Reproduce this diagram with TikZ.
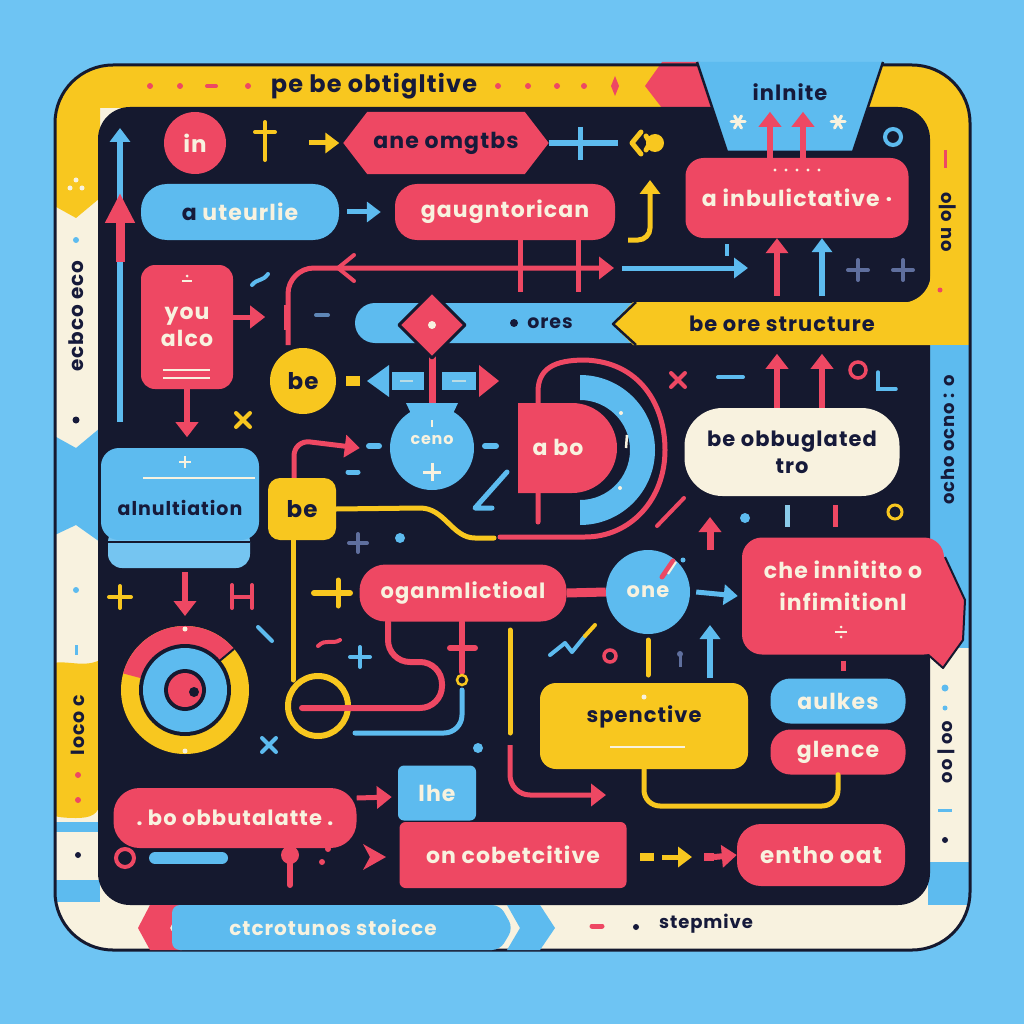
\documentclass[tikz,border=0pt]{standalone}
\usepackage{fontspec}
\setmainfont{Poppins}[LetterSpace=5]
\usetikzlibrary{arrows.meta}
\definecolor{bgc}{HTML}{6EC4F3}
\definecolor{navy}{HTML}{15192F}
\definecolor{rd}{HTML}{EE4863}
\definecolor{bl}{HTML}{5DBBEF}
\definecolor{yl}{HTML}{F8C71F}
\definecolor{cr}{HTML}{F8F2DF}
\definecolor{ink}{HTML}{161A3A}
\definecolor{slate}{HTML}{5F6F9E}
\newcommand\fsz[1]{\fontsize{#1}{#1}\selectfont\bfseries}
\newcommand\plusat[4]{\draw[#1, line width=#2pt, line cap=round] (#3) ++(-#4,0) -- ++(2*#4,0) (#3) ++(0,-#4) -- ++(0,2*#4);}
\tikzset{
  rbox/.style={fill=rd, text=cr, inner sep=0pt, font=\fsz{21}},
  bbox/.style={fill=bl, text=cr, inner sep=0pt, font=\fsz{21}},
  ybox/.style={fill=yl, text=ink, inner sep=0pt, font=\fsz{21}},
  cbox/.style={fill=cr, text=ink, inner sep=0pt, font=\fsz{21}},
  txt/.style={inner sep=0pt, font=\fsz{21}},
  rarr/.style={draw=rd, line width=6pt, -{Triangle[width=22pt,length=15pt]}},
  barr/.style={draw=bl, line width=5pt, -{Triangle[width=20pt,length=14pt]}},
  yarr/.style={draw=yl, line width=5pt, -{Triangle[width=20pt,length=14pt]}},
  rln/.style={draw=rd, line width=5pt, line cap=round},
  bln/.style={draw=bl, line width=5pt, line cap=round},
  yln/.style={draw=yl, line width=5pt, line cap=round},
  sln/.style={draw=slate, line width=4pt, line cap=round},
}
\begin{document}
\begin{tikzpicture}[x=1pt,y=-1pt]
\useasboundingbox (0,0) rectangle (1024,1024);
\fill[bgc] (0,0) rectangle (1024,1024);
% ---------------- frame bands
\begin{scope}
\clip[rounded corners=58pt] (55,65) rectangle (970,950);
\fill[cr] (40,50) rectangle (985,965);
\fill[yl] (40,50) -- (662,50) -- (662,108) -- (100,108) -- (100,198) -- (76,218) -- (40,198) -- cycle;
\fill[yl] (860,50) rectangle (985,345);
\fill[bl] (928,345) rectangle (985,648);
\fill[bl] (928,862) rectangle (985,905);
\fill[bl] (40,428) -- (76,448) -- (100,428) -- (100,542) -- (76,525) -- (40,542) -- cycle;
\fill[yl] (40,668) .. controls (60,655) and (80,670) .. (100,660) -- (100,800) .. controls (100,815) and (90,818) .. (76,818) .. controls (55,818) and (40,815) .. (40,800) -- cycle;
\fill[bl] (40,822) rectangle (100,832);
\fill[bl] (40,880) rectangle (100,902);
\end{scope}
\fill[rd] (662,62) -- (700,62) -- (715,108) -- (662,108) -- (645,86) -- cycle;
\draw[navy, line width=3pt, rounded corners=58pt] (55,65) rectangle (970,950);
% dark interior
\fill[navy, rounded corners=32pt] (98,107) rectangle (930,905);
% frame texts and dots
\node[txt, text=ink, font=\fsz{24}] (ttl) at (374,86) {pe be obtigltive};
\foreach \x in {150,180,248,498,528,557,584} \fill[rd] (\x,86) circle (3);
\draw[rd, line width=4pt, line cap=round] (207,86) -- (216,86);
\fill[rd] (615,76) -- (619,86) -- (615,96) -- (611,86) -- cycle;
\node[txt, text=ink, font=\fsz{20}, rotate=90] (lft1) at (76,316) {ecbco eco};
\fill[cr] (70,188) circle (2.5); \fill[cr] (82,188) circle (2.5); \fill[cr] (76,180) circle (2.5);
\fill[bl] (76,240) circle (3);
\fill[ink] (76,420) circle (3.5);
\fill[bl] (76,590) circle (3);
\draw[bl, line width=3pt] (76,645) -- (76,655);
\node[txt, text=ink, font=\fsz{19}, rotate=90] (lft2) at (78,725) {Ioco c};
\fill[rd] (78,775) circle (3);
\fill[rd] (78,800) circle (3);
\fill[ink] (78,855) circle (3);
\node[txt, text=ink, font=\fsz{18}, rotate=-90] (rgt1) at (948,222) {o|o no};
\draw[rd, line width=3pt] (945,150) -- (945,168);
\fill[rd] (940,290) circle (2.5);
\node[txt, text=ink, font=\fsz{18}, rotate=90] (rgt2) at (948,440) {ocho ocno : o};
\fill[bl] (945,688) circle (3.5);
\fill[bl] (945,708) circle (2.5);
\node[txt, text=ink, font=\fsz{18}, rotate=90] (rgt3) at (946,752) {oo | oo};
\draw[bl, line width=3pt] (938,810) -- (952,810);
\fill[ink] (945,840) circle (3);
% ---------------- INFINITE trapezoid
\fill[bl] (697,62) -- (883,62) -- (853,152) -- (727,152) -- cycle;
\draw[navy, line width=2.5pt, line join=round] (697,62) -- (727,152) -- (853,152) -- (883,62);
\node[txt, text=ink, font=\fsz{21}] (inf) at (790,92) {inlnite};
\foreach \cx in {738,838} {\foreach \a in {0,60,120} \draw[cr, line width=3pt, line cap=round] (\cx,122) ++(\a:7) -- ++({\a+180}:14);}
% ---------------- row 1
\node[circle, rbox, minimum size=62pt, font=\fsz{23}] (in) at (195,143) {in};
\draw[yl, line width=4pt, line cap=round] (265,122) -- (265,160) (255,132) -- (275,132);
\path node[minimum width=205pt, minimum height=62pt, inner sep=0pt] (hex) at (446,143) {};
\fill[rd] (hex.west) -- ([xshift=24pt]hex.north west) -- ([xshift=-24pt]hex.north east) -- (hex.east) -- ([xshift=-24pt]hex.south east) -- ([xshift=24pt]hex.south west) -- cycle;
\node[txt, text=ink, font=\fsz{22}] at (hex) {ane omgtbs};
\draw[yarr] ([xshift=-34pt]hex.west) -- ([xshift=-4pt]hex.west);
\draw[bl, line width=6pt] (hex.east) -- (618,143);
\draw[bl, line width=5pt] (580,127) -- (580,160);
\fill[yl] (655,143) circle (9);
\draw[yl, line width=5pt, line cap=round, line join=round] (641,132) -- (632,143) -- (641,154);
\draw[yl, line width=5pt, line cap=round] (646,136) -- (650,143) -- (646,150);
% ---------------- row 2
\node[bbox, minimum width=198pt, minimum height=56pt, rounded corners=26pt, font=\fsz{22}] (ute) at (240,212) {{\color{ink}a}~uteurlie};
\node[rbox, minimum width=220pt, minimum height=56pt, rounded corners=22pt, font=\fsz{22}] (gaug) at (505,212) {gaugntorican};
\draw[barr] ([xshift=8pt]ute.east) -- ([xshift=-14pt]gaug.west);
\coordinate (jend) at (650,180);
\draw[yarr, rounded corners=12pt] (628,240) -- (650,240) -- (jend);
\node[rbox, minimum width=223pt, minimum height=80pt, rounded corners=18pt, font=\fsz{22}] (ainb) at (797,198) {a inbulictative ·};
\foreach \x in {775,786,797,808,819} \fill[cr] (\x,170) circle (1.6);
\draw[rarr] ([xshift=-27pt]ainb.north) -- ++(0,-46);
\draw[rarr] ([xshift=6pt]ainb.north) -- ++(0,-46);
\draw[bl, line width=4pt] (893,137) circle (8);
% long connectors
\draw[rd, line width=5pt] ([xshift=15pt]gaug.south) -- ++(0,52);
\draw[rd, line width=5pt] ([xshift=73pt]gaug.south) -- ++(0,52);
\coordinate (rtip) at (614,268);
\draw[rd, line width=5pt, rounded corners=26pt, -{Triangle[width=22pt,length=15pt]}] (288,345) -- (288,268) -- (rtip);
\draw[rd, line width=4pt, line cap=round, line join=round] (354,255) -- (338,268) -- (354,281);
\coordinate (btip) at (748,268);
\draw[barr] (622,268) -- (btip);
\draw[bl, line width=4pt] (727,244) -- (727,256);
\draw[rarr] ([xshift=-20pt]ainb.south) ++(0,58) -- ([xshift=-20pt]ainb.south);
\draw[barr, line width=6pt] ([xshift=25pt]ainb.south) ++(0,58) -- ([xshift=25pt]ainb.south);
\plusat{slate}{4}{858,270}{10}
\plusat{slate}{4}{903,270}{10}
% ---------------- left column
\coordinate (bltop) at (120,128);
\draw[barr, line width=6pt] (120,422) -- (bltop);
\draw[rd, line width=9pt, -{Triangle[width=28pt,length=30pt]}] (120,262) -- (120,193);
\node[rbox, minimum width=92pt, minimum height=124pt, rounded corners=14pt, align=center, font=\fsz{22}] (you) at (187,327) {you\\[4pt]alco};
\draw[cr, line width=2.5pt] (182,281) -- (192,281);
\fill[cr] (187,276) circle (1.5);
\draw[cr, line width=2.5pt] (163,370) -- (210,370) (163,378) -- (210,378);
\draw[rarr, line width=5pt] ([yshift=10pt]you.east) -- ++(32,0);
\draw[rd, line width=5pt] (286,305) -- (286,330);
\draw[bl, line width=4pt, line cap=round] (252,285) .. controls (258,278) and (262,282) .. (268,274);
\draw[slate!70!bl, line width=4pt, line cap=round] (316,315) -- (328,315);
\draw[rarr] (you.south) -- ++(0,48);
\draw[yl, line width=4pt, line cap=round] (236,413) -- (250,427) (250,413) -- (236,427);
% ---------------- ores band + structure band
\fill[bl, rounded corners=20pt] (355,303) rectangle (650,343);
\node[txt, text=ink, font=\fsz{19}] (ores) at (550,323) {ores};
\fill[ink] (514,323) circle (4);
\fill[yl] (612,324) -- (633,302) -- (931,302) -- (931,345) -- (633,345) -- cycle;
\draw[navy, line width=2.5pt, line join=round] (636,345) -- (613,324) -- (636,302);
\fill[yl] (900,303) -- (931,303) -- (931,272) .. controls (931,290) and (918,303) .. (900,303);
\node[txt, text=ink, font=\fsz{21}] (struct) at (782,324) {be ore structure};
% diamond
\draw[rd, line width=7pt] (432,350) -- (432,404);
\fill[rd] (432,292) -- (465,325) -- (432,358) -- (399,325) -- cycle;
\draw[navy, line width=3pt, line join=round] (432,292) -- (465,325) -- (432,358) -- (399,325) -- cycle;
\coordinate (dia) at (432,325);
\fill[cr] (dia) circle (4);
% be circle + bar
\node[circle, ybox, minimum size=66pt, font=\fsz{23}] (be1) at (303,381) {be};
\fill[yl] (346,376) rectangle (360,386);
\fill[bl] (367,381) -- (389,365) -- (389,397) -- cycle;
\fill[bl] (392,372) rectangle (424,390);
\fill[bl] (442,372) rectangle (476,390);
\draw[cr!60!bl, line width=2.5pt] (400,381) -- (413,381) (452,381) -- (466,381);
\fill[rd] (479,365) -- (499,381) -- (479,397) -- cycle;
% ceno
\fill[bl] (406,403) -- (458,403) -- (449,422) -- (415,422) -- cycle;
\node[circle, fill=bl, minimum size=84pt, inner sep=0pt] (ceno) at (432,448) {};
\node[txt, text=cr, font=\fsz{16}] at ([yshift=8pt]ceno) {ceno};
\draw[cr, line width=3pt] (432,463) -- (432,481) (423,472) -- (441,472);
\draw[cr, line width=2pt] (432,420) -- (432,427);
\draw[bl, line width=6pt, line cap=round] (369,446) -- (379,446) (485,446) -- (496,446);
\draw[bl, line width=5pt, line cap=round] (348,472) -- (358,472);
\draw[bl, line width=5pt, line cap=round, line join=round] (507,472) -- (475,508) -- (492,508);
% a bo
\draw[rd, line width=5pt, line cap=round] (538,522) -- (538,392) .. controls (538,368) and (555,360) .. (585,360) .. controls (640,362) and (665,405) .. (665,450) .. controls (665,500) and (630,537) .. (585,537) -- (500,537);
\fill[bl] (580,375) arc[start angle=-90,end angle=90,radius=75] -- (580,500) arc[start angle=90,end angle=-90,radius=50] -- cycle;
\fill[cr] (621,413) circle (2);
\draw[cr, line width=2.5pt] (627,435) -- (626,448);
\fill[cr] (620,488) circle (2);
\fill[rd] (518,403) -- (572,403) arc[start angle=-90,end angle=90,radius=45] -- (518,493) -- cycle;
\node[txt, text=cr, font=\fsz{22}] (abo) at (558,447) {a bo};
% be2 and alnultiation
\fill[bl!85!white, rounded corners=14pt] (108,528) rectangle (250,568);
\draw[navy, line width=2pt] (108,542) -- (250,542);
\node[bbox, minimum width=158pt, minimum height=92pt, rounded corners=18pt] (aln) at (180,494) {};
\node[txt, text=ink, font=\fsz{19}] at (180,508) {alnultiation};
\draw[cr, line width=2.5pt] (143,478) -- (255,478);
\draw[cr, line width=2.5pt] (185,456) -- (185,468) (179,462) -- (191,462);
\node[ybox, minimum width=68pt, minimum height=62pt, rounded corners=12pt, font=\fsz{23}] (be2) at (302,509) {be};
\draw[rarr, line width=5pt, rounded corners=16pt] ([xshift=-8pt]be2.north) -- (294,440) -- ([xshift=-30pt]ceno.west);
\draw[yln] (be2.east) -- (420,508) .. controls (445,508) and (452,538) .. (475,538) -- (494,538);
\draw[yln] ([xshift=-9pt]be2.south) -- (293,680);
\plusat{slate}{4}{358,543}{9}
\fill[bl] (400,538) circle (5);
% ---------------- target circle
\node[circle, minimum size=128pt, inner sep=0pt] (tgt) at (185,690) {};
\draw[rarr] (185,572) -- (185,616);
\plusat{yl}{4}{120,597}{11}
\draw[rd, line width=4pt, line cap=round] (232,585) -- (232,608) (232,597) -- (252,597) (252,585) -- (252,608);
\fill[yl] (tgt) circle (64);
\fill[rd] (tgt.center) -- ++(-165:64) arc[start angle=-165,end angle=-40,radius=64] -- cycle;
\draw[navy, line width=2pt] (tgt.center) -- ++(-40:64);
\fill[navy] (tgt) circle (46);
\fill[bl] (tgt) circle (42);
\fill[navy] (tgt) circle (21);
\fill[rd] (tgt) circle (17);
\fill[navy] (194,692) circle (5);
\fill[cr] (185,629) circle (2.5);
\fill[cr] (185,751) circle (2.5);
% decorations left-middle
\draw[bl, line width=4pt, line cap=round] (258,627) -- (272,641);
\draw[bl, line width=4pt, line cap=round] (262,738) -- (276,752) (276,738) -- (262,752);
\draw[rd, line width=4pt, line cap=round] (318,646) .. controls (326,638) and (332,645) .. (340,640);
\plusat{bl}{4}{360,657}{10}
% ---------------- oganm row
\node[rbox, minimum width=207pt, minimum height=57pt, rounded corners=26pt, font=\fsz{21}] (ogan) at (463,593) {oganmlictioal};
\draw[yl, line width=6pt, line cap=round] (314,593) -- (350,593);
\draw[yl, line width=5pt, line cap=round] (338,580) -- (338,606);
\node[circle, bbox, minimum size=84pt, font=\fsz{21}] (one) at (648,592) {one};
\draw[rd, line width=9pt] (ogan.east) -- (one.west);
\draw[rd, line width=5pt, line cap=round] (662,577) -- (673,561);
\draw[cr, line width=2pt] (668,574) -- (676,562);
\fill[bl] (683,560) circle (2.5);
% che box
\fill[rd] (925,560) -- (945,557) -- (965,600) -- (963,640) -- (943,668) -- (925,652) -- cycle;
\draw[navy, line width=2pt, line join=round] (945,557) -- (965,600) -- (963,640) -- (943,668) -- (925,652);
\node[rbox, minimum width=202pt, minimum height=117pt, rounded corners=20pt] (che) at (843,596) {};
\node[txt, text=cr, font=\fsz{22}, align=center] at (843,586) {che innitito o\\[10pt]infimitionl};
\draw[cr, line width=2pt] (835,632) -- (847,632);
\fill[cr] (841,627) circle (1.5);
\fill[cr] (841,637) circle (1.5);
\draw[barr] ([xshift=6pt]one.east) -- ([xshift=-4pt]che.west);
% red pipes under oganm
\draw[rd, line width=6pt, line cap=round, rounded corners=22pt] (388,622) -- (388,662) -- (442,662) -- (442,708) -- (302,708);
\draw[bl, line width=5pt, line cap=round, rounded corners=18pt] (462,690) -- (462,733) -- (355,733);
\draw[rd, line width=6pt, line cap=round] (462,622) -- (462,672) (450,648) -- (475,648);
\draw[yl, line width=2.5pt] (462,680) circle (5);
\draw[yl, line width=6pt] (318,706) circle (30);
\draw[rd, line width=6pt, line cap=round] (318,708) -- (360,708);
\draw[yln] (510,630) -- (510,733);
\fill[bl] (478,748) circle (5);
% right middle
\draw[rd, line width=4pt, line cap=round] (671,373) -- (685,387) (685,373) -- (671,387);
\draw[bl, line width=4pt, line cap=round] (718,377) -- (743,377);
\node[cbox, minimum width=215pt, minimum height=88pt, rounded corners=38pt, align=center, font=\fsz{21}] (obb) at (792,452) {be obbuglated\\[6pt]tro};
\draw[rarr] ([xshift=-15pt]obb.north) -- ++(0,-54);
\draw[rarr] ([xshift=30pt]obb.north) -- ++(0,-54);
\draw[rd, line width=3.5pt] (858,370) circle (8);
\draw[bl, line width=3.5pt, line cap=round] (878,372) -- (878,389) -- (896,389);
\draw[bl!70!cr, line width=5pt] (787,505) -- (787,527);
\draw[rd, line width=5pt] (835,505) -- (835,527);
\draw[rarr, line width=7pt] (710,550) -- (710,517);
\fill[bl] (745,518) circle (5);
\draw[yl, line width=3pt] (895,512) circle (7);
\draw[rd, line width=4pt, line cap=round] (657,526) -- (684,498);
\draw[bl, line width=4pt, line cap=round, line join=round] (550,655) -- (565,643) -- (572,652) -- (585,636);
\draw[yl, line width=4pt, line cap=round] (585,636) -- (595,625);
\draw[rd, line width=3.5pt] (610,656) circle (6);
\draw[yln] (648,640) -- (648,675);
\fill[slate] (680,654) circle (3);
\draw[slate, line width=3pt] (680,654) -- (680,667);
\coordinate (bup) at (710,625);
\draw[barr, line width=6pt] (710,678) -- (bup);
% spenctive, aulkes, glence
\node[ybox, minimum width=208pt, minimum height=86pt, rounded corners=16pt] (spen) at (644,726) {};
\node[txt, text=ink, font=\fsz{21}] at (644,717) {spenctive};
\fill[cr] (644,697) circle (2.5);
\draw[cr, line width=2.5pt] (610,747) -- (685,747);
\draw[rd, line width=5pt] ([yshift=-6pt]che.south) -- ++(0,10);
\node[bbox, minimum width=135pt, minimum height=45pt, rounded corners=20pt, font=\fsz{22}] (aul) at (838,701) {aulkes};
\node[rbox, minimum width=135pt, minimum height=45pt, rounded corners=20pt, font=\fsz{22}] (gle) at (838,752) {glence};
\draw[yln, rounded corners=16pt] (spen.south) -- (644,806) -- (838,806) -- (gle.south);
\coordinate (rgo) at (606,795);
\draw[rarr, line width=5pt, rounded corners=20pt] (510,745) -- (510,795) -- (rgo);
% ---------------- bottom row
\node[rbox, minimum width=243pt, minimum height=60pt, rounded corners=26pt, font=\fsz{21}] (obbu) at (235,818) {.~bo obbutalatte~.};
\node[bbox, minimum width=78pt, minimum height=55pt, rounded corners=6pt, font=\fsz{22}] (lhe) at (437,793) {lhe};
\node[rbox, minimum width=227pt, minimum height=66pt, rounded corners=6pt, font=\fsz{22}] (cob) at (513,855) {on cobetcitive};
\draw[rarr, line width=5pt] ([yshift=20pt]obbu.east) -- ([xshift=-6pt,yshift=-4pt]lhe.west);
\node[rbox, minimum width=168pt, minimum height=62pt, rounded corners=24pt, font=\fsz{23}] (ent) at (821,855) {entho oat};
\draw[yl, line width=8pt] (640,857) -- (654,857);
\draw[yarr] (662,857) -- (692,857);
\draw[rd, line width=8pt] (704,857) -- (714,857);
\draw[rarr] (714,857) -- (ent.west);
\fill[rd] (363,844) -- (386,857) -- (363,870) -- (370,857) -- cycle;
\draw[rd, line width=4pt] (125,858) circle (9);
\draw[bl, line width=12pt, line cap=round] (155,858) -- (222,858);
\draw[rd, line width=6pt, line cap=round] (290,830) -- (290,885);
\fill[rd] (290,855) circle (9);
\fill[rd] (322,862) circle (3);
\fill[rd] (328,849) circle (3);
% ---------------- bottom band
\fill[rd] (150,905) -- (182,905) -- (170,928) -- (182,950) -- (150,950) -- (138,928) -- cycle;
\fill[bl, rounded corners=8pt] (172,905) -- (500,905) -- (513,928) -- (500,950) -- (172,950) -- cycle;
\fill[bl] (507,905) -- (540,905) -- (555,928) -- (540,950) -- (507,950) -- (520,928) -- cycle;
\node[txt, text=cr, font=\fsz{20}] (ctc) at (333,928) {ctcrotunos stoicce};
\draw[rd, line width=5pt, line cap=round] (592,926) -- (602,926);
\fill[ink] (636,927) circle (3);
\node[txt, text=ink, font=\fsz{18}] (stp) at (706,924) {stepmive};
\end{tikzpicture}
\end{document}
